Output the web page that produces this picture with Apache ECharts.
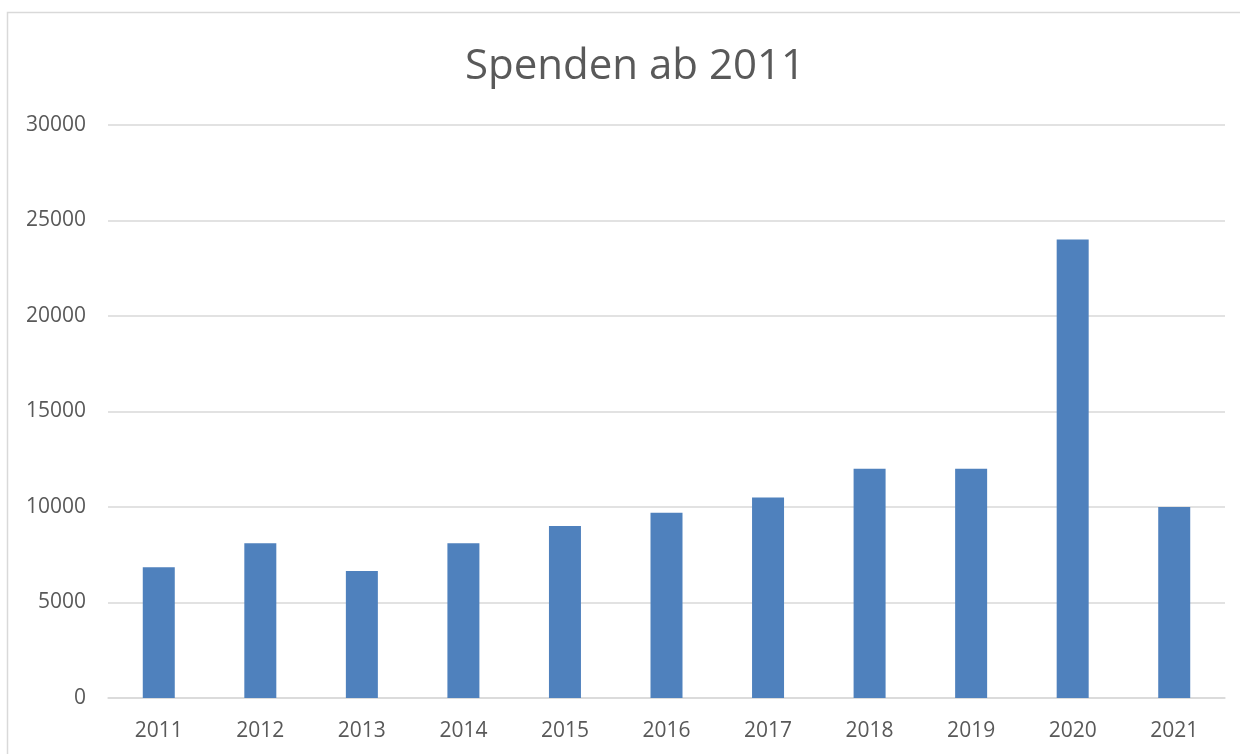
<!DOCTYPE html>
<html>
<head>
<meta charset="utf-8">
<script src="https://cdn.jsdelivr.net/npm/echarts@6/dist/echarts.min.js"></script>
<style>
  html, body { margin: 0; padding: 0; background: #fff; }
  #chart { width: 1240px; height: 754px; }
</style>
</head>
<body>
<div id="chart"></div>
<script>
// Spenden pro Jahr
var years = ['2011','2012','2013','2014','2015','2016','2017','2018','2019','2020','2021'];
var spenden = [6850, 8100, 6650, 8100, 9000, 9700, 10500, 12000, 12000, 24000, 10000];
var yMin = 0, yMax = 30000, yStep = 5000;

var chart = echarts.init(document.getElementById('chart'));
var txt = '#595959', line = '#d9d9d9';

var option = {
    animation: false,
    title: {
        text: 'Spenden ab 2011',
        left: 630, top: 41, textAlign: 'center',
        textStyle: {fontFamily: 'Open Sans', fontSize: 42, fontWeight: 'normal', color: txt}
    },
    graphic: [{
        type: 'rect', silent: true,
        shape: {x: 7.5, y: 12.5, width: 1300, height: 800},
        style: {fill: 'none', stroke: line, lineWidth: 1.5}
    }],
    grid: {left: 108, right: 15, top: 125, bottom: 56, containLabel: false},
    xAxis: {
        type: 'category', data: years,
        axisLine: {lineStyle: {color: line, width: 1.5}},
        axisTick: {show: false},
        axisLabel: {color: txt, fontFamily: 'Open Sans', fontSize: 21, margin: 23}
    },
    yAxis: {
        type: 'value', min: yMin, max: yMax, interval: yStep,
        axisLine: {show: false},
        axisTick: {show: false},
        splitLine: {lineStyle: {color: line, width: 1.5}},
        axisLabel: {
            color: txt, fontFamily: 'Open Sans', fontSize: 21, margin: 22,
            formatter: function (v) { return String(v); }
        }
    },
    series: [{
        type: 'bar', data: spenden, barWidth: 32,
        itemStyle: {color: '#4f81bd'}
    }]
};
chart.setOption(option);
</script>
</body>
</html>
